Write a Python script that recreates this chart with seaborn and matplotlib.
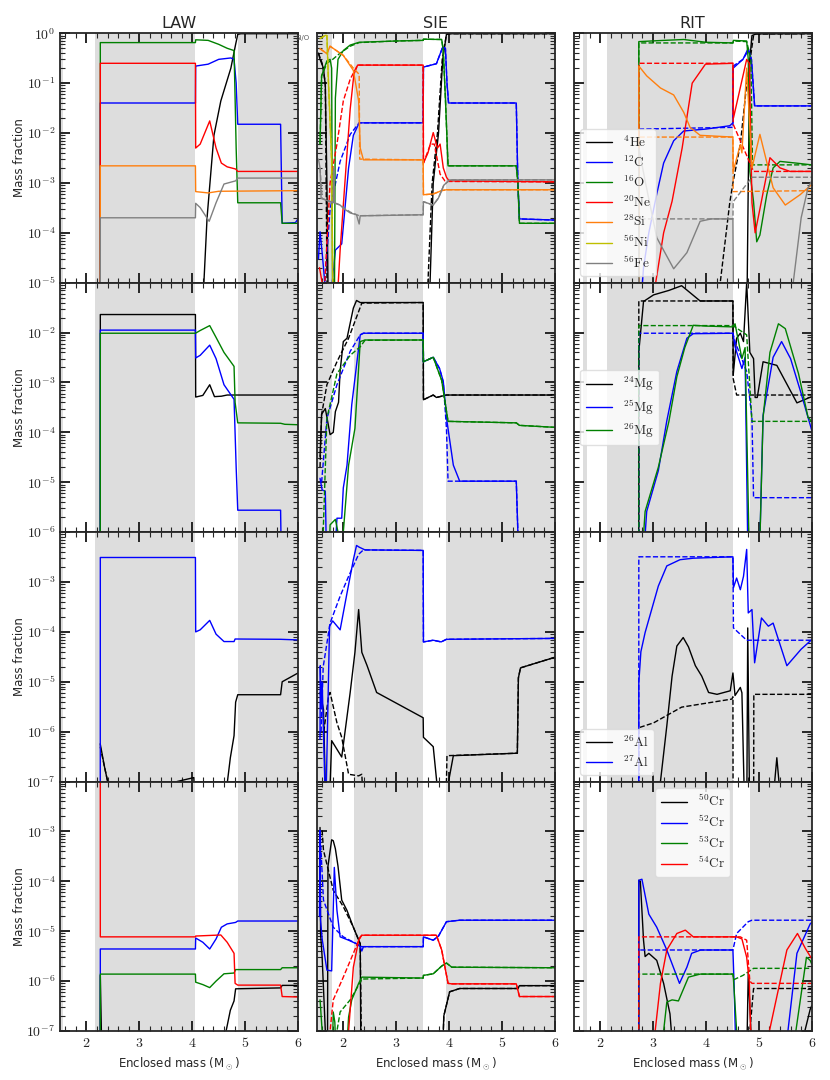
import math
import pandas as pd
import seaborn as sns
import matplotlib.pyplot as plt
from matplotlib.lines import Line2D
from matplotlib.ticker import FixedLocator, FuncFormatter, MultipleLocator, LogLocator, NullFormatter

# convective zones (enclosed mass, Msun)
law_zones = [(1.5, 1.56), (2.16, 4.06), (4.86, 6.0)]
sie_zones = [(1.5, 1.78), (2.2, 3.5), (3.94, 6.0)]
rit_zones = [(1.68, 1.76), (2.13, 4.51), (4.83, 6.0)]

# ---------------- row 1: major species ----------------
law_he4 = [(4.2, 1e-6), (4.22, 1e-5), (4.28, 2e-4), (4.41, 9e-3), (4.54, 0.044), (4.73, 0.2), (4.82, 0.6),
           (4.86, 0.95), (4.92, 0.98), (6.0, 0.98)]
law_c12 = [(2.26, 1e-12), (2.262, 0.04), (4.06, 0.04), (4.065, 0.22), (4.3, 0.24), (4.5, 0.3), (4.73, 0.32),
           (4.79, 0.3), (4.83, 0.1), (4.86, 0.015), (5.67, 0.015), (5.7, 1.55e-4), (5.95, 1.6e-4), (6.0, 1.9e-4)]
law_o16 = [(2.26, 1e-12), (2.262, 0.65), (4.06, 0.65), (4.065, 0.74), (4.3, 0.72), (4.5, 0.6), (4.66, 0.5),
           (4.79, 0.45), (4.81, 0.05), (4.83, 5e-3), (4.86, 4e-4), (5.67, 4e-4), (5.7, 1.55e-4), (6.0, 1.55e-4)]
law_ne20 = [(2.26, 1e-12), (2.262, 0.25), (4.06, 0.25), (4.065, 5e-3), (4.15, 6e-3), (4.33, 0.0175), (4.45, 5e-3),
            (4.55, 2.5e-3), (4.66, 2.1e-3), (4.82, 1.9e-3), (4.86, 1.7e-3), (6.0, 1.7e-3)]
law_si28 = [(2.26, 1e-12), (2.262, 2.2e-3), (4.06, 2.2e-3), (4.065, 6.7e-4), (4.3, 6.3e-4), (4.5, 6.8e-4),
            (6.0, 7e-4)]
law_fe56 = [(2.26, 1e-12), (2.262, 2e-4), (4.06, 2e-4), (4.065, 3.9e-4), (4.15, 3.2e-4), (4.32, 1.7e-4),
            (4.45, 4e-4), (4.6, 9.5e-4), (4.82, 1.1e-3), (4.86, 1.25e-3), (6.0, 1.25e-3)]

sie_he4 = [(1.53, 0.4), (1.56, 0.3), (1.625, 0.2), (1.66, 0.09), (1.69, 1e-3), (1.72, 1e-6), (3.6, 1e-6),
           (3.64, 1e-5), (3.7, 1e-3), (3.8, 1e-2), (3.88, 0.3), (3.95, 0.95), (4.0, 0.98), (6.0, 0.98)]
sie_he4_d = [(1.53, 0.4), (1.6, 0.25), (1.66, 0.1), (1.7, 1e-6), (3.55, 1e-6), (3.6, 1e-5), (3.68, 1e-3),
             (3.78, 1e-2), (3.87, 0.3), (3.95, 0.95), (4.0, 0.98), (6.0, 0.98)]
sie_c12 = [(1.53, 3e-5), (1.56, 1.05e-4), (1.6, 4e-5), (1.65, 1e-5), (1.7, 1e-6), (1.85, 4.5e-5), (1.97, 6e-5),
           (2.03, 3e-4), (2.1, 2e-3), (2.19, 9e-3), (2.3, 0.016), (3.51, 0.016), (3.515, 0.21), (3.76, 0.245),
           (3.88, 0.53), (3.93, 0.5), (3.96, 0.1), (3.99, 0.04), (5.27, 0.04), (5.3, 1e-3), (5.33, 1.9e-4),
           (6.0, 1.8e-4)]
sie_c12_d = [(1.6, 1e-6), (1.65, 1e-5), (1.75, 3e-4), (1.94, 2.7e-3), (2.13, 9.4e-3), (2.3, 0.016),
             (3.51, 0.016), (3.515, 0.21), (3.76, 0.245), (3.88, 0.53), (3.93, 0.5), (3.96, 0.1), (3.99, 0.04),
             (5.27, 0.04), (5.3, 1e-3), (5.33, 1.9e-4), (6.0, 1.8e-4)]
sie_o16 = [(1.56, 6e-3), (1.59, 0.14), (1.69, 0.28), (1.75, 0.3), (1.78, 0.2), (1.8, 1e-6), (1.83, 1e-6),
           (1.85, 0.05), (1.9, 0.3), (2.0, 0.45), (2.13, 0.58), (2.3, 0.66), (3.0, 0.7), (3.51, 0.72),
           (3.515, 0.76), (3.86, 0.75), (3.89, 0.45), (3.93, 0.05), (3.98, 2.2e-3), (5.27, 2.2e-3), (5.3, 1e-3),
           (5.33, 1.55e-4), (6.0, 1.55e-4)]
sie_o16_d = [(1.56, 6e-3), (1.59, 0.14), (1.69, 0.25), (1.8, 0.3), (1.94, 0.4), (2.13, 0.55), (2.3, 0.65),
             (3.0, 0.7), (3.51, 0.72), (3.515, 0.76), (3.86, 0.75), (3.89, 0.45), (3.93, 0.05), (3.98, 2.2e-3),
             (5.27, 2.2e-3), (5.3, 1e-3), (5.33, 1.55e-4), (6.0, 1.55e-4)]
sie_ne20 = [(1.55, 2e-5), (1.6, 1e-5), (1.65, 1e-6), (1.85, 1e-6), (1.94, 4.5e-5), (2.03, 1e-3), (2.13, 3e-2),
            (2.2, 0.15), (2.27, 0.23), (3.51, 0.23), (3.515, 2.5e-3), (3.6, 4e-3), (3.7, 0.0102), (3.78, 5e-3),
            (3.83, 6e-3), (3.89, 2e-3), (3.95, 1.3e-3), (4.0, 1.1e-3), (6.0, 1.05e-3)]
sie_ne20_d = [(1.6, 1e-6), (1.65, 1e-5), (1.75, 1e-3), (1.88, 6e-3), (2.0, 0.044), (2.13, 0.12), (2.27, 0.23),
              (3.51, 0.23), (3.515, 2.5e-3), (3.65, 6e-3), (3.72, 6e-3), (3.83, 1.5e-3), (3.92, 1.1e-3),
              (4.0, 1.07e-3), (6.0, 1.05e-3)]
sie_si28 = [(1.56, 0.49), (1.69, 0.39), (1.75, 0.55), (2.0, 0.36), (2.19, 0.18), (2.29, 0.044), (2.32, 5e-3),
            (2.38, 2.9e-3), (3.51, 2.9e-3), (3.515, 5.8e-4), (3.7, 6e-4), (3.86, 7e-4), (3.95, 7.3e-4),
            (6.0, 7.3e-4)]
sie_si28_d = [(1.56, 0.49), (1.69, 0.39), (1.75, 0.55), (2.0, 0.36), (2.19, 0.2), (2.3, 0.15), (2.31, 3e-3),
              (3.51, 2.9e-3), (3.515, 5.8e-4), (3.7, 6e-4), (3.86, 7e-4), (3.95, 7.3e-4), (6.0, 7.3e-4)]
sie_ni56 = [(1.56, 0.78), (1.66, 0.91), (1.69, 0.9), (1.72, 0.1), (1.78, 2.7e-3), (1.8, 1e-5), (1.82, 1e-7)]
sie_fe56 = [(1.53, 3e-3), (1.56, 2e-3), (1.58, 4.9e-4), (1.75, 4.2e-4), (1.81, 4e-4), (1.82, 2e-3), (1.83, 4e-4),
            (1.94, 3.6e-4), (2.0, 3.1e-4), (2.13, 2.5e-4), (2.25, 2.3e-4), (2.3, 1.5e-4), (2.32, 2.2e-4),
            (2.45, 2.2e-4), (3.51, 2.3e-4), (3.515, 4.2e-4), (3.7, 3.6e-4), (3.8, 5e-4), (3.9, 9e-4),
            (4.01, 1.15e-3), (6.0, 1.15e-3)]
sie_fe56_d = [(1.56, 2e-3), (1.6, 4.9e-4), (1.94, 3.6e-4), (2.13, 2.6e-4), (2.3, 2.2e-4), (3.51, 2.3e-4),
              (3.515, 4.2e-4), (3.7, 3.6e-4), (3.8, 5e-4), (3.9, 9e-4), (4.01, 1.15e-3), (6.0, 1.15e-3)]

rit_he4 = [(4.5, 1e-6), (4.53, 1e-5), (4.55, 1e-6), (4.77, 1e-6), (4.8, 1e-3), (4.83, 0.3), (4.87, 0.9),
           (4.95, 0.97), (6.0, 0.98)]
rit_he4_d = [(4.21, 1e-6), (4.27, 1e-5), (4.45, 4e-4), (4.51, 1e-3), (4.65, 5.9e-3), (4.77, 0.096), (4.9, 0.9),
             (4.95, 0.97), (6.0, 0.98)]
rit_c12 = [(2.73, 1e-6), (2.82, 2e-5), (2.92, 1e-4), (3.07, 6e-4), (3.2, 2.5e-3), (3.39, 7e-3), (3.58, 0.011),
           (4.0, 0.012), (4.45, 0.014), (4.51, 0.016), (4.515, 0.2), (4.7, 0.3), (4.8, 0.5), (4.86, 0.3),
           (4.92, 0.035), (6.0, 0.035)]
rit_c12_d = [(2.73, 1e-9), (2.731, 0.012), (4.51, 0.013), (4.515, 0.22), (4.7, 0.3), (4.8, 0.45), (4.86, 0.3),
             (4.92, 0.035), (6.0, 0.035)]
rit_o16 = [(2.73, 1e-9), (2.731, 0.68), (3.2, 0.72), (3.58, 0.75), (4.0, 0.66), (4.51, 0.64), (4.52, 0.72),
           (4.77, 0.7), (4.8, 0.3), (4.83, 1.7e-3), (4.9, 4.2e-4), (4.96, 6.6e-5), (5.02, 9e-5), (5.15, 5.8e-4),
           (5.27, 2e-3), (5.4, 2.7e-3), (5.7, 2.5e-3), (6.0, 2.3e-3)]
rit_o16_d = [(2.73, 1e-9), (2.731, 0.64), (4.51, 0.64), (4.52, 0.7), (4.77, 0.68), (4.85, 0.3), (4.88, 2.3e-3),
             (6.0, 2.3e-3)]
rit_ne20 = [(3.01, 1e-6), (3.05, 1e-5), (3.2, 1e-4), (3.36, 4.3e-4), (3.55, 5e-3), (3.74, 0.1), (3.99, 0.24),
            (4.51, 0.25), (4.52, 0.02), (4.77, 0.3), (4.82, 0.25), (4.87, 4e-4), (4.93, 1e-4), (5.02, 3e-4),
            (5.21, 3.2e-3), (5.4, 2e-3), (5.59, 1.7e-3), (6.0, 1.7e-3)]
rit_ne20_d = [(2.73, 1e-9), (2.731, 0.25), (4.51, 0.25), (4.515, 0.015), (4.9, 1.7e-3), (6.0, 1.7e-3)]
rit_si28 = [(2.73, 1e-9), (2.731, 0.22), (2.88, 0.14), (3.14, 0.08), (3.39, 0.058), (3.58, 0.026), (3.7, 0.013),
            (3.89, 9e-3), (4.51, 8.3e-3), (4.515, 1.7e-3), (4.65, 5.9e-3), (4.68, 4e-3), (4.77, 0.2),
            (4.87, 2e-3), (5.02, 9.4e-3), (5.27, 8e-4), (5.5, 3.6e-4), (5.78, 5.8e-4), (6.0, 9.3e-4)]
rit_si28_d = [(2.73, 1e-9), (2.731, 8.3e-3), (4.51, 8.3e-3), (4.515, 6.7e-4), (6.0, 7e-4)]
rit_fe56 = [(2.73, 1e-9), (2.731, 5e-3), (2.85, 1.1e-3), (3.07, 8e-5), (3.39, 1.9e-5), (3.64, 4e-5),
            (3.89, 1.7e-4), (4.1, 1.9e-4), (4.51, 1.9e-4), (4.53, 1e-7), (5.59, 1e-7), (5.65, 1e-5), (5.8, 2e-4),
            (5.93, 8e-4), (6.0, 1.1e-3)]
rit_fe56_d = [(2.73, 1e-9), (2.731, 1.9e-4), (4.51, 1.9e-4), (4.515, 4.2e-4), (4.87, 1.3e-3), (6.0, 1.3e-3)]

# ---------------- row 2: Mg isotopes ----------------
law_mg24 = [(2.26, 1e-12), (2.262, 0.023), (4.06, 0.023), (4.065, 5.1e-4), (4.2, 5.5e-4), (4.33, 9e-4),
            (4.42, 5.2e-4), (4.55, 5.3e-4), (4.66, 5.6e-4), (6.0, 5.6e-4)]
law_mg25 = [(2.26, 1e-12), (2.262, 0.0112), (4.06, 0.0112), (4.065, 3.1e-3), (4.15, 3.5e-3), (4.33, 5.6e-3),
            (4.45, 3e-3), (4.6, 9e-4), (4.79, 4.6e-4), (4.83, 2e-5), (4.86, 2.75e-6), (5.67, 2.75e-6),
            (5.69, 1e-7)]
law_mg26 = [(2.26, 1e-12), (2.262, 9.7e-3), (4.06, 9.7e-3), (4.15, 0.011), (4.33, 0.0138), (4.45, 8e-3),
            (4.6, 4e-3), (4.79, 2.1e-3), (4.81, 4e-4), (4.86, 1.55e-4), (5.67, 1.52e-4), (5.75, 1.45e-4),
            (6.0, 1.42e-4)]

sie_mg24 = [(1.56, 3.3e-5), (1.59, 2.3e-4), (1.66, 3e-4), (1.75, 9e-5), (1.81, 1e-4), (1.85, 2.6e-4),
            (1.91, 4e-4), (1.94, 1.7e-3), (2.0, 6.6e-3), (2.07, 7.7e-3), (2.19, 0.031), (2.25, 0.044),
            (2.32, 0.04), (3.51, 0.04), (3.515, 4.5e-4), (3.7, 5.6e-4), (3.76, 5e-4), (3.95, 5.6e-4),
            (6.0, 5.6e-4)]
sie_mg24_d = [(1.56, 2e-5), (1.59, 2.3e-4), (1.69, 9e-4), (1.88, 2.6e-3), (2.1, 7.7e-3), (2.35, 0.039),
              (3.51, 0.04), (3.515, 4.5e-4), (3.7, 5.6e-4), (3.76, 5e-4), (3.95, 5.6e-4), (6.0, 5.6e-4)]
sie_mg25 = [(1.56, 1.2e-5), (1.6, 7e-6), (1.66, 6.6e-6), (1.69, 1e-7), (1.81, 1e-7), (1.88, 1.9e-6),
            (1.97, 1.9e-6), (2.0, 7.7e-6), (2.07, 2.2e-5), (2.16, 3.6e-4), (2.32, 9e-3), (2.38, 9.7e-3),
            (3.51, 9.7e-3), (3.515, 2.6e-3), (3.7, 3.2e-3), (3.82, 1.9e-3), (3.89, 1.05e-3), (3.96, 1.66e-4),
            (4.08, 2.2e-5), (4.2, 1.05e-5), (5.27, 1.05e-5), (5.3, 1e-6), (5.33, 1e-7)]
sie_mg25_d = [(1.59, 1e-5), (1.69, 1.9e-4), (1.88, 9e-4), (2.13, 4.2e-3), (2.32, 9e-3), (2.38, 9.7e-3),
              (3.51, 9.7e-3), (3.515, 2.6e-3), (3.7, 3.2e-3), (3.82, 1.9e-3), (3.89, 1e-3), (3.95, 1.2e-4),
              (3.98, 1.05e-5), (5.27, 1.05e-5), (5.3, 1e-6), (5.33, 1e-7)]
sie_mg26 = [(1.72, 1e-7), (1.75, 1.4e-6), (1.85, 1.8e-6), (1.9, 1e-6), (1.97, 1e-7), (2.0, 1e-6),
            (2.1, 2.2e-5), (2.22, 1.2e-4), (2.32, 6.6e-3), (2.41, 7.1e-3), (3.51, 7.1e-3), (3.515, 2.6e-3),
            (3.7, 3.2e-3), (3.86, 1.1e-3), (3.98, 1.66e-4), (5.27, 1.55e-4), (5.33, 1.38e-4), (6.0, 1.26e-4)]
sie_mg26_d = [(1.62, 1e-6), (1.69, 1.9e-4), (1.88, 1.5e-3), (2.13, 3.5e-3), (2.32, 5.2e-3), (2.41, 7e-3),
              (3.51, 7.1e-3), (3.515, 2.6e-3), (3.7, 3.2e-3), (3.86, 1.1e-3), (3.98, 1.66e-4), (5.27, 1.55e-4),
              (5.33, 1.38e-4), (6.0, 1.26e-4)]

rit_mg24 = [(2.73, 1e-9), (2.731, 4.2e-3), (2.82, 0.042), (3.01, 0.057), (3.3, 0.07), (3.54, 0.087),
            (3.89, 0.043), (4.51, 0.043), (4.515, 1.4e-3), (4.58, 7.7e-3), (4.65, 9.7e-3), (4.71, 6.6e-3),
            (4.77, 0.1), (4.83, 4e-3), (4.9, 3e-3), (4.93, 5e-4), (4.97, 5e-4), (5.08, 2.6e-3), (5.34, 2.2e-3),
            (5.72, 3.9e-4), (6.0, 5.2e-4)]
rit_mg24_d = [(2.73, 1e-9), (2.731, 0.043), (4.51, 0.043), (4.515, 1.2e-3), (4.58, 5.6e-4), (6.0, 5.6e-4)]
rit_mg25 = [(2.79, 1e-7), (2.88, 2.6e-6), (3.1, 1.7e-5), (3.26, 1.7e-4), (3.45, 1.66e-3), (3.64, 7.7e-3),
            (3.76, 9.5e-3), (4.51, 9.7e-3), (4.55, 5.2e-3), (4.68, 1.9e-3), (4.74, 3.2e-3), (4.8, 1e-7),
            (5.0, 1e-7), (5.08, 2.2e-4), (5.27, 3.2e-3), (5.43, 6.6e-3), (5.6, 3e-3), (5.8, 6e-4), (6.0, 1.1e-4)]
rit_mg25_d = [(2.73, 1e-9), (2.731, 9.7e-3), (4.51, 9.7e-3), (4.55, 6.6e-3), (4.77, 1.66e-3), (4.87, 1.9e-4),
              (4.9, 4.9e-6), (6.0, 4.9e-6)]
rit_mg26 = [(2.76, 1e-7), (2.85, 2.6e-6), (3.1, 2e-5), (3.3, 1.66e-4), (3.45, 1.3e-3), (3.6, 5e-3),
            (3.76, 0.014), (4.0, 0.0135), (4.51, 0.013), (4.55, 0.015), (4.68, 3e-3), (4.74, 5e-3), (4.83, 1e-7),
            (5.0, 1e-7), (5.08, 2e-4), (5.21, 4e-3), (5.37, 0.015), (5.5, 0.012), (5.75, 1.5e-3), (5.93, 2e-4),
            (6.0, 1.66e-4)]
rit_mg26_d = [(2.73, 1e-9), (2.731, 0.0138), (4.51, 0.0138), (4.77, 9e-3), (4.87, 1.66e-4), (6.0, 1.66e-4)]

# ---------------- row 3: Al isotopes ----------------
law_al26 = [(2.26, 5.7e-7), (2.34, 2e-7), (2.42, 8e-8), (3.6, 5e-8), (3.71, 1e-7), (4.03, 1.2e-7), (4.06, 1e-8),
            (4.6, 1e-8), (4.66, 9e-8), (4.72, 3e-7), (4.79, 8.3e-7), (4.82, 3.9e-6), (4.86, 5.5e-6),
            (5.67, 5.5e-6), (5.7, 1e-5), (6.0, 1.5e-5)]
law_al26_d = [(2.26, 5e-7), (2.32, 2.5e-7), (2.42, 8e-8), (2.5, 1e-8)]
law_al27 = [(2.26, 1e-12), (2.262, 3.1e-3), (4.06, 3.1e-3), (4.065, 1e-4), (4.15, 1.1e-4), (4.33, 1.7e-4),
            (4.45, 9e-5), (4.6, 6.4e-5), (4.79, 6.4e-5), (4.81, 7.2e-5), (5.67, 7.1e-5), (6.0, 6.9e-5)]

sie_al26 = [(1.56, 6.1e-6), (1.625, 2.8e-6), (1.68, 1e-8), (1.72, 1e-8), (1.78, 6.6e-7), (1.97, 3.1e-7),
            (2.13, 6.1e-6), (2.22, 3.9e-5), (2.29, 2.8e-4), (2.35, 3.9e-5), (2.45, 2.1e-5), (2.63, 6.1e-6),
            (3.51, 1.9e-6), (3.515, 7.7e-7), (3.7, 5e-7), (3.86, 1e-8), (3.96, 1e-8), (3.99, 1e-7),
            (4.08, 3.3e-7), (5.29, 3.7e-7), (5.31, 1.2e-5), (5.35, 1.9e-5), (6.0, 3.1e-5)]
sie_al26_d = [(1.63, 1e-6), (1.72, 5e-6), (1.75, 6.1e-6), (1.88, 1.5e-6), (1.97, 7.7e-7), (2.1, 1.4e-7),
              (2.29, 1.3e-7), (2.35, 1.4e-7), (2.4, 1e-8), (3.93, 1e-8), (3.96, 3.3e-7), (5.29, 3.7e-7),
              (5.31, 1.2e-5), (5.35, 1.9e-5), (6.0, 3.1e-5)]
sie_al27 = [(1.56, 7e-7), (1.565, 2.1e-5), (1.58, 3e-6), (1.6, 1e-5), (1.65, 1e-7), (1.68, 1e-7),
            (1.74, 1.3e-4), (1.8, 1.66e-4), (1.94, 1.1e-4), (2.07, 6e-4), (2.19, 2.8e-3), (2.25, 5.4e-3),
            (2.3, 5e-3), (2.41, 4.4e-3), (3.51, 4.3e-3), (3.515, 6.3e-5), (3.7, 6.8e-5), (3.85, 6.3e-5),
            (3.95, 7.1e-5), (6.0, 7.4e-5)]
sie_al27_d = [(1.58, 1e-6), (1.62, 2e-5), (1.75, 1.5e-4), (1.94, 5.2e-4), (2.1, 1.3e-3), (2.29, 3.6e-3),
              (2.38, 4.4e-3), (3.51, 4.3e-3), (3.515, 6.3e-5), (3.7, 6.8e-5), (3.85, 6.3e-5), (3.95, 7.1e-5),
              (6.0, 7.4e-5)]

rit_al26 = [(3.1, 1e-8), (3.14, 1e-7), (3.26, 1.3e-6), (3.36, 1.3e-5), (3.45, 5.2e-5), (3.57, 7.7e-5),
            (3.67, 5e-5), (3.8, 2.1e-5), (3.92, 1.3e-5), (4.05, 6.1e-6), (4.21, 5.6e-6), (4.46, 6.6e-6),
            (4.51, 1.5e-5), (4.55, 5.3e-6), (4.65, 7.7e-6), (4.68, 6e-6), (4.74, 1e-8), (4.77, 1e-8),
            (4.79, 1.2e-4), (4.83, 1e-8), (5.25, 1e-8), (5.3, 1e-7), (5.34, 3e-7), (5.38, 1e-7), (5.42, 1e-8)]
rit_al26_d = [(2.73, 1e-9), (2.731, 1.2e-6), (3.01, 1.5e-6), (3.54, 3.1e-6), (4.49, 4.5e-6), (4.51, 5e-6),
              (4.515, 1e-9), (4.9, 1e-9), (4.905, 5.6e-6), (6.0, 5.6e-6)]
rit_al27 = [(2.73, 1e-9), (2.731, 9.7e-6), (2.77, 4e-5), (2.85, 9.7e-5), (3.1, 8.3e-4), (3.26, 2.1e-3),
            (3.51, 2.8e-3), (3.76, 3e-3), (4.51, 3.2e-3), (4.52, 7.7e-4), (4.58, 1.2e-3), (4.65, 7e-4),
            (4.71, 1.3e-3), (4.77, 4.5e-3), (4.8, 2.4e-4), (4.87, 2.8e-4), (4.92, 2.4e-5), (5.05, 1.9e-4),
            (5.18, 1.3e-4), (5.27, 1.5e-4), (5.53, 2.1e-5), (5.8, 4.5e-5), (6.0, 7e-5)]
rit_al27_d = [(2.73, 1e-9), (2.731, 3.2e-3), (4.51, 3.2e-3), (4.52, 1.2e-4), (4.77, 6.8e-5), (6.0, 6.8e-5)]

# ---------------- row 4: Cr isotopes ----------------
law_cr50 = [(2.26, 1e-12), (2.262, 1.3e-6), (2.3, 1e-8), (4.6, 1e-8), (4.64, 1e-7), (4.72, 2.6e-7),
            (4.79, 4e-7), (4.82, 7e-7), (5.67, 7.3e-7), (5.7, 8.2e-7), (6.0, 8.2e-7)]
law_cr52 = [(2.26, 1e-12), (2.262, 4.4e-6), (4.06, 4.4e-6), (4.065, 7.3e-6), (4.2, 6e-6), (4.33, 4.4e-6),
            (4.45, 7e-6), (4.55, 1.2e-5), (4.66, 1.4e-5), (4.82, 1.5e-5), (4.86, 1.6e-5), (6.0, 1.6e-5)]
law_cr53 = [(2.26, 1e-12), (2.262, 1.38e-6), (4.06, 1.38e-6), (4.065, 9.5e-7), (4.2, 8.5e-7), (4.33, 7.4e-7),
            (4.45, 1e-6), (4.6, 1.4e-6), (4.79, 1.45e-6), (4.82, 1.7e-6), (5.67, 1.7e-6), (5.7, 1.85e-6),
            (6.0, 1.85e-6)]
law_cr54 = [(2.261, 1.0), (2.262, 7.7e-6), (4.06, 7.7e-6), (4.065, 8e-6), (4.54, 8.4e-6), (4.66, 6e-6),
            (4.79, 3.6e-6), (4.81, 9e-7), (4.86, 8.3e-7), (5.67, 8.3e-7), (5.7, 4.9e-7), (6.0, 4.8e-7)]

sie_cr50 = [(1.56, 1.2e-3), (1.57, 9e-6), (1.6, 3e-6), (1.66, 1e-7), (1.69, 1e-8), (1.7, 1e-8), (1.71, 2e-4),
            (1.78, 6.8e-4), (1.81, 6.5e-4), (1.85, 4.5e-4), (1.9, 2e-4), (1.97, 4.2e-5), (2.07, 2.6e-5),
            (2.19, 1.2e-5), (2.32, 5.6e-6), (2.335, 1e-8), (3.86, 1e-8), (3.9, 2e-7), (4.01, 6.1e-7),
            (4.2, 7.1e-7), (5.3, 7.1e-7), (5.33, 8.1e-7), (6.0, 8.1e-7)]
sie_cr50_d = [(1.6, 1.05e-3), (1.625, 4.2e-4), (1.81, 6.6e-5), (2.0, 3.1e-5), (2.19, 1.2e-5), (2.32, 5.6e-6),
              (2.35, 1e-8), (3.86, 1e-8), (3.9, 2e-7), (4.01, 6.1e-7), (4.2, 7.1e-7), (5.3, 7.1e-7),
              (5.33, 8.1e-7), (6.0, 8.1e-7)]
sie_cr52 = [(1.55, 2e-5), (1.56, 1.05e-3), (1.57, 1.66e-5), (1.6, 7e-6), (1.69, 1.66e-6), (1.78, 1.6e-6),
            (1.83, 1.9e-4), (1.88, 2.6e-5), (1.94, 7.7e-6), (2.1, 6.6e-6), (2.25, 5.6e-6), (2.32, 4.9e-6),
            (2.35, 4e-6), (2.38, 4.9e-6), (3.51, 4.9e-6), (3.515, 7.7e-6), (3.7, 6.6e-6), (3.8, 8e-6),
            (3.95, 1.55e-5), (4.2, 1.66e-5), (6.0, 1.66e-5)]
sie_cr52_d = [(1.56, 1.05e-3), (1.625, 4.2e-5), (1.81, 1.2e-5), (2.0, 7.7e-6), (2.25, 5.6e-6), (2.35, 4.9e-6),
              (3.51, 4.9e-6), (3.515, 7.7e-6), (3.7, 6.6e-6), (3.8, 8e-6), (3.95, 1.55e-5), (4.2, 1.66e-5),
              (6.0, 1.66e-5)]
sie_cr53 = [(1.56, 4.2e-7), (1.57, 3e-7), (1.6, 1e-7), (1.63, 1e-8), (1.78, 1e-8), (1.81, 2.4e-7),
            (1.84, 1.5e-7), (1.88, 1e-8), (2.03, 1e-8), (2.1, 1.9e-7), (2.16, 4.2e-7), (2.29, 9e-7),
            (2.35, 1.2e-6), (3.51, 1.15e-6), (3.515, 1.3e-6), (3.7, 1.4e-6), (3.86, 2e-6), (3.95, 2.3e-6),
            (4.05, 1.9e-6), (6.0, 1.85e-6)]
sie_cr53_d = [(1.78, 1e-8), (1.88, 1e-7), (1.94, 2.4e-7), (2.13, 4.2e-7), (2.29, 8.3e-7), (2.35, 1.1e-6),
              (3.51, 1.15e-6), (3.515, 1.3e-6), (3.7, 1.4e-6), (3.86, 2e-6), (3.95, 2.3e-6), (4.05, 1.9e-6),
              (6.0, 1.85e-6)]
sie_cr54 = [(2.07, 1e-8), (2.1, 1e-7), (2.19, 1.9e-6), (2.29, 6.6e-6), (2.35, 8.3e-6), (3.76, 8.3e-6),
            (3.86, 4.2e-6), (3.98, 9e-7), (4.05, 8.8e-7), (5.27, 8.8e-7), (5.33, 4.9e-7), (6.0, 4.9e-7)]
sie_cr54_d = [(1.72, 1e-8), (1.75, 1e-7), (1.81, 4.2e-7), (2.0, 1.2e-6), (2.19, 3.6e-6), (2.32, 7.7e-6),
              (2.35, 8.3e-6), (3.76, 8.3e-6), (3.86, 4.2e-6), (3.98, 9e-7), (4.05, 8.8e-7), (5.27, 8.8e-7),
              (5.33, 4.9e-7), (6.0, 4.9e-7)]

rit_cr50 = [(2.73, 1e-9), (2.731, 1.05e-4), (2.76, 1e-4), (2.82, 6.6e-6), (2.85, 3.1e-6), (2.92, 3.6e-6),
            (3.07, 2.6e-6), (3.2, 9e-7), (3.32, 2.2e-7), (3.42, 1e-8), (4.76, 1e-8), (4.78, 1e-7), (4.8, 1.5e-6),
            (4.85, 1e-7), (4.87, 1e-8), (5.84, 1e-8), (5.87, 1e-7), (5.97, 2.7e-7), (6.0, 3.2e-7)]
rit_cr50_d = [(4.8, 1e-8), (4.83, 1e-7), (4.9, 7.1e-7), (6.0, 7.1e-7)]
rit_cr52 = [(2.73, 1e-9), (2.731, 1.05e-4), (2.79, 1.1e-4), (2.92, 2.2e-5), (3.07, 1.2e-5), (3.26, 4.2e-6),
            (3.5, 9e-7), (3.64, 1.9e-6), (3.73, 3.6e-6), (3.9, 4.2e-6), (4.51, 4.2e-6), (4.53, 1e-6),
            (4.58, 1e-8), (5.5, 1e-8), (5.55, 1e-7), (5.72, 3.6e-6), (5.97, 1.4e-5), (6.0, 1.5e-5)]
rit_cr52_d = [(2.73, 1e-9), (2.731, 4.2e-6), (4.51, 4.2e-6), (4.58, 9e-6), (4.8, 1.55e-5), (4.87, 1.66e-5),
              (6.0, 1.66e-5)]
rit_cr53 = [(3.14, 1e-8), (3.2, 1e-7), (3.26, 3.8e-7), (3.36, 4.2e-7), (3.48, 4e-7), (3.67, 1.2e-6),
            (3.89, 1.38e-6), (4.51, 1.38e-6), (4.52, 1.1e-6), (4.58, 1e-7), (4.6, 1e-8), (5.65, 1e-8),
            (5.7, 1e-7), (5.9, 3e-6), (5.97, 2.6e-6), (6.0, 2.2e-6)]
rit_cr53_d = [(2.73, 1e-9), (2.731, 1.38e-6), (4.51, 1.38e-6), (4.53, 1.07e-6), (4.7, 1.3e-6), (4.9, 1.8e-6),
              (6.0, 1.8e-6)]
rit_cr54 = [(3.0, 1e-8), (3.04, 1e-7), (3.14, 9e-7), (3.26, 4.2e-6), (3.45, 9e-6), (3.61, 1.05e-5),
            (3.76, 7.7e-6), (4.58, 7.7e-6), (4.68, 7e-6), (4.77, 3e-6), (4.82, 9.5e-7), (4.87, 1e-8),
            (5.15, 1e-8), (5.2, 1e-7), (5.53, 4.2e-6), (5.73, 9e-6), (5.88, 4.5e-6), (6.0, 2.8e-6)]
rit_cr54_d = [(2.73, 1e-9), (2.731, 7.7e-6), (4.65, 7.7e-6), (4.77, 6.6e-6), (4.83, 1e-6), (4.87, 9e-7),
              (6.0, 9e-7)]

titles = ['LAW', 'SIE', 'RIT']
ylims = [(1e-5, 1.0), (1e-6, 1e-1), (1e-7, 1e-2), (1e-7, 1e-2)]
row_labels = [
    [r'$^{4}\mathrm{He}$', r'$^{12}\mathrm{C}$', r'$^{16}\mathrm{O}$', r'$^{20}\mathrm{Ne}$',
     r'$^{28}\mathrm{Si}$', r'$^{56}\mathrm{Ni}$', r'$^{56}\mathrm{Fe}$'],
    [r'$^{24}\mathrm{Mg}$', r'$^{25}\mathrm{Mg}$', r'$^{26}\mathrm{Mg}$'],
    [r'$^{26}\mathrm{Al}$', r'$^{27}\mathrm{Al}$'],
    [r'$^{50}\mathrm{Cr}$', r'$^{52}\mathrm{Cr}$', r'$^{53}\mathrm{Cr}$', r'$^{54}\mathrm{Cr}$'],
]
row_colors = [
    ['k', 'b', 'g', 'r', '#ff7f0e', '#bfbf00', 'gray'],
    ['k', 'b', 'g'],
    ['k', 'b'],
    ['k', 'b', 'g', 'r'],
]
legend_locs = ['lower left', 'center left', 'lower left', 'upper center']

# per row, per model: (solid, dashed) for each species, None = not drawn
rows = [
    [
        [(law_he4, None), (law_c12, None), (law_o16, None), (law_ne20, None), (law_si28, None), (None, None),
         (law_fe56, None)],
        [(sie_he4, sie_he4_d), (sie_c12, sie_c12_d), (sie_o16, sie_o16_d), (sie_ne20, sie_ne20_d),
         (sie_si28, sie_si28_d), (sie_ni56, sie_ni56), (sie_fe56, sie_fe56_d)],
        [(rit_he4, rit_he4_d), (rit_c12, rit_c12_d), (rit_o16, rit_o16_d), (rit_ne20, rit_ne20_d),
         (rit_si28, rit_si28_d), (None, None), (rit_fe56, rit_fe56_d)],
    ],
    [
        [(law_mg24, None), (law_mg25, None), (law_mg26, None)],
        [(sie_mg24, sie_mg24_d), (sie_mg25, sie_mg25_d), (sie_mg26, sie_mg26_d)],
        [(rit_mg24, rit_mg24_d), (rit_mg25, rit_mg25_d), (rit_mg26, rit_mg26_d)],
    ],
    [
        [(law_al26, law_al26_d), (law_al27, None)],
        [(sie_al26, sie_al26_d), (sie_al27, sie_al27_d)],
        [(rit_al26, rit_al26_d), (rit_al27, rit_al27_d)],
    ],
    [
        [(law_cr50, None), (law_cr52, None), (law_cr53, None), (law_cr54, None)],
        [(sie_cr50, sie_cr50_d), (sie_cr52, sie_cr52_d), (sie_cr53, sie_cr53_d), (sie_cr54, sie_cr54_d)],
        [(rit_cr50, rit_cr50_d), (rit_cr52, rit_cr52_d), (rit_cr53, rit_cr53_d), (rit_cr54, rit_cr54_d)],
    ],
]
zones = [law_zones, sie_zones, rit_zones]


def draw(ax, pts, color, ls):
    df = pd.DataFrame(pts, columns=['mass', 'frac'])
    sns.lineplot(data=df, x='mass', y='frac', ax=ax, color=color, linestyle=ls, linewidth=1.0,
                 sort=False, estimator=None, errorbar=None, legend=False)


def log_label(v, pos, top, hide):
    e = round(math.log10(v))
    if hide and e == top:
        return ''
    return r'$10^{%d}$' % e


sns.set_style('ticks')
plt.rcParams['font.family'] = ['DejaVu Sans']
plt.rcParams['mathtext.fontset'] = 'cm'

fig, axes = plt.subplots(4, 3, figsize=(8.3, 10.8), sharex=True, sharey='row')
fig.subplots_adjust(left=0.0723, right=0.978, top=0.9692, bottom=0.0454, hspace=0, wspace=0.079)

for r in range(4):
    lo, hi = ylims[r]
    for c in range(3):
        ax = axes[r, c]
        for a, b in zones[c]:
            ax.axvspan(a, b, color='#dddddd', ec='none', zorder=0)
        for (solid, dashed), color in zip(rows[r][c], row_colors[r]):
            if dashed is not None:
                draw(ax, dashed, color, '--')
            if solid is not None:
                draw(ax, solid, color, '-')
        ax.set_yscale('log')
        ax.set_xlim(1.5, 6.0)
        ax.set_ylim(lo, hi)
        ax.set_xlabel('')
        ax.set_ylabel('')
        ax.xaxis.set_major_locator(FixedLocator([2, 3, 4, 5, 6]))
        ax.xaxis.set_minor_locator(MultipleLocator(0.2))
        ax.xaxis.set_major_formatter(FuncFormatter(lambda v, p: r'$%d$' % round(v)))
        ax.yaxis.set_minor_locator(LogLocator(base=10, subs=range(2, 10), numticks=20))
        ax.yaxis.set_minor_formatter(NullFormatter())
        ax.tick_params(which='major', direction='in', top=True, right=True, length=7, width=1.4, labelsize=10)
        ax.tick_params(which='minor', direction='in', top=True, right=True, length=3.5, width=0.8)
        for s in ax.spines.values():
            s.set_linewidth(1.3)
        if r == 0:
            ax.set_title(titles[c], fontsize=11.5, pad=4)
        if r == 3:
            ax.set_xlabel(r'Enclosed mass (M$_\odot$)', fontsize=8.5, labelpad=4)
        if c == 0:
            ax.set_ylabel('Mass fraction', fontsize=8.5)
            ax.yaxis.set_label_coords(-0.142, 0.5)

    top_exp = round(math.log10(hi))
    bot_exp = round(math.log10(lo))
    ax0 = axes[r, 0]
    ax0.yaxis.set_major_locator(FixedLocator([10.0 ** e for e in range(bot_exp, top_exp + 1)]))
    ax0.yaxis.set_major_formatter(FuncFormatter(
        lambda v, p, t=top_exp, h=(r > 0): log_label(v, p, t, h)))

    handles = [Line2D([], [], color=col, lw=1.0) for col in row_colors[r]]
    axes[r, 2].legend(handles, row_labels[r], loc=legend_locs[r], fontsize=9.5, frameon=True,
                      fancybox=True, framealpha=0.8, edgecolor='0.85', handlelength=2.0,
                      labelspacing=0.35, borderpad=0.4)

fig.text(0.356, 0.963, 'Si/O', fontsize=5, color='0.35')

fig.savefig('out.png', dpi=100)
